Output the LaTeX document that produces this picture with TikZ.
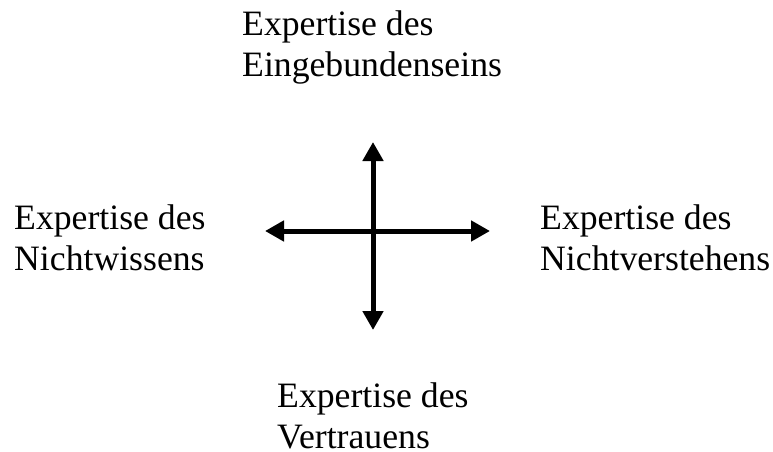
\documentclass[tikz,border=0pt]{standalone}
\usepackage{fontspec}
\setmainfont{Liberation Serif}
\usetikzlibrary{arrows.meta}
\begin{document}
\begin{tikzpicture}[x=1pt,y=-1pt,
  lbl/.style={anchor=base west,inner sep=0pt,align=left,font=\fontsize{35.7}{41}\selectfont},
  axis/.style={line width=5pt,{Triangle[length=19pt,width=20pt]}-{Triangle[length=19pt,width=20pt]}}]
\useasboundingbox (0,0) rectangle (773,452);
\node[lbl] (top) at (242,77) {Expertise des\\Eingebundenseins};
\node[lbl] (left) at (14,270) {Expertise des\\Nichtwissens};
\node[lbl] (right) at (540,270) {Expertise des\\Nichtverstehens};
\node[lbl] (bottom) at (277,448) {Expertise des\\Vertrauens};
\coordinate (n) at (373,142);
\coordinate (s) at (373,330);
\coordinate (w) at (265,231);
\coordinate (e) at (490,231);
\draw[axis] (s) -- (n);
\draw[axis] (w) -- (e);
\end{tikzpicture}
\end{document}
